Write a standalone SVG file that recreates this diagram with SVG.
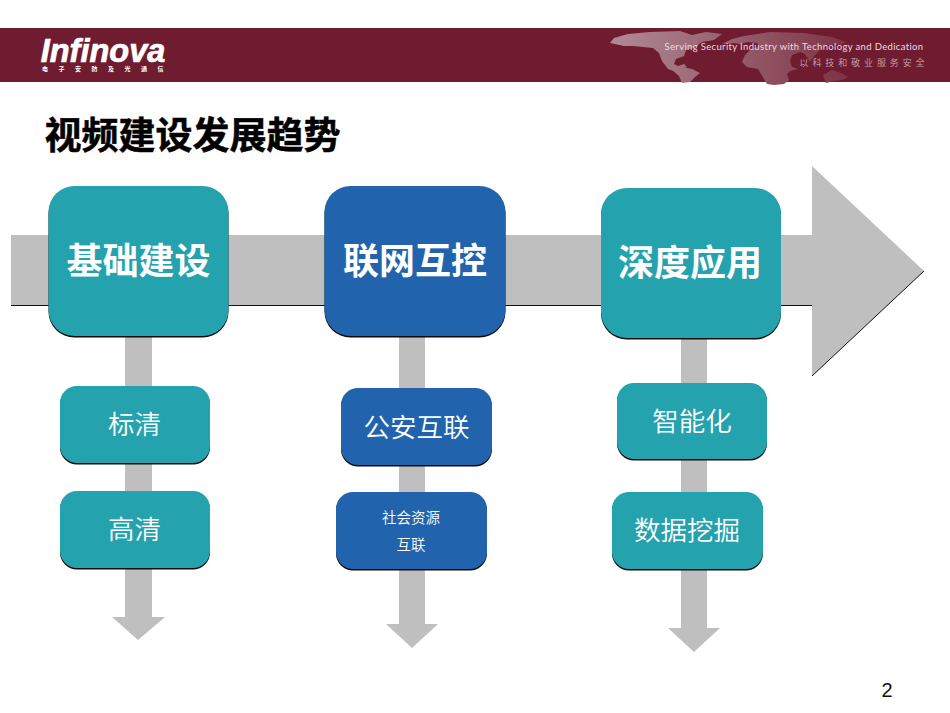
<svg xmlns="http://www.w3.org/2000/svg" width="950" height="713" viewBox="0 0 950 713">
<defs>
<linearGradient id="mapfade" gradientUnits="userSpaceOnUse" x1="612" y1="0" x2="850" y2="0"><stop offset="0" stop-color="#b08a95"/><stop offset=".5" stop-color="#965f6e"/><stop offset="1" stop-color="#7e3244"/></linearGradient>
<filter id="soft" x="-5%" y="-5%" width="110%" height="110%"><feGaussianBlur stdDeviation=".7"/></filter>
</defs>
<style>
text{font-family:"Noto Sans CJK SC","Liberation Sans",sans-serif;text-anchor:middle;fill:#fff}
.arrow{fill:#bfbfbf}
.big{font-size:36px;font-weight:700}
.mid{font-size:26.500px;font-weight:350}
.small{font-size:14.500px;font-weight:350}
.teal{fill:#24a2ae}
.blue{fill:#2164ad}
.sh{fill:#0a0a0a}
</style>
<rect width="950" height="713" fill="#fff"/>
<g id="header">
<rect x="0" y="28" width="950" height="54" fill="#701c30"/>
<path fill="url(#mapfade)" filter="url(#soft)" d="M614 38l14-4 22-2 30-1 12 4 14-3 16 2-8 6-12 2-8 6-8 2-2 6-8 3-2 5 4 2 6-2 3 3-6 2-5 3-8-3-6-8-3-8-6-5-10-1-10-1-9 0-14-3zM672 70l10-3 10 2 8 4-5 4-5 5-8 1-3-7zM722 44l10-5 12-3 26-4 34 1 28 4 14 5-6 3-12 0-8 5-6 6-4 6-5-8-5-2-8 3-2 6 2 6 6 2-8 2-3 3 2 6-5 4-10 1-7-1-6-10-3-5-11-2-5-5 3-7 6-6 8-2-2-4-9-1-8 2-6-1zM823 75l9-5 9 3 7 4-6 3-8 1-8 2z"/>
<text x="794" y="50" style="font-size:9.500px;letter-spacing:.35px;fill:#eadde0;font-family:Lato,'Liberation Sans',sans-serif;font-weight:400">Serving Security Industry with Technology and Dedication</text>
<text x="864" y="66" style="font-size:9px;letter-spacing:3.900px;fill:#c4a3ac;font-weight:350">以科技和敬业服务安全</text>
<text x="103" y="62" style="font-family:'Liberation Sans',sans-serif;font-size:32.500px;font-weight:700;font-style:italic;stroke:#fff;stroke-width:.7">Infinova</text>
<text x="108" y="71" style="font-size:6px;font-weight:700;letter-spacing:10.500px">电子安防及光通信</text>
</g>
<text x="192.500" y="149" style="font-size:37px;font-weight:700;fill:#000;stroke:#000;stroke-width:.5">视频建设发展趋势</text>
<g id="connectors">
<path class="arrow" d="M11 235H812V166L924 271 812 376V306H11z"/>
<path d="M11 305.500H812M812 376L924 271" fill="none" stroke="#111" stroke-width="1"/>
<path class="arrow" d="M125 330h27V617h13L138 640 112 617h13z"/>
<path class="arrow" d="M399 330h26V624h13L412 648 386 624h13z"/>
<path class="arrow" d="M681 330h26V628h13L694 652 668 628h13z"/>
</g>
<g id="node-jichu"><rect class="sh" x="48.500" y="187.500" width="180" height="150" rx="26"/><rect class="teal" x="48.500" y="186" width="180" height="150" rx="26"/><text class="big" x="138.500" y="274">基础建设</text></g>
<g id="node-lianwang"><rect class="sh" x="324.500" y="187.500" width="181" height="150" rx="26"/><rect class="blue" x="324.500" y="186" width="181" height="150" rx="26"/><text class="big" x="415" y="274">联网互控</text></g>
<g id="node-shendu"><rect class="sh" x="601" y="189.500" width="180" height="150" rx="26"/><rect class="teal" x="601" y="188" width="180" height="150" rx="26"/><text class="big" x="690" y="276">深度应用</text></g>
<g id="node-biaoqing"><rect class="sh" x="60" y="387.500" width="150" height="77" rx="17"/><rect class="teal" x="60" y="386" width="150" height="77" rx="17"/><text class="mid" x="134.500" y="434">标清</text></g>
<g id="node-gaoqing"><rect class="sh" x="60" y="492.500" width="150" height="77" rx="17"/><rect class="teal" x="60" y="491" width="150" height="77" rx="17"/><text class="mid" x="134.500" y="539">高清</text></g>
<g id="node-gongan"><rect class="sh" x="341" y="389.500" width="151" height="77" rx="17"/><rect class="blue" x="341" y="388" width="151" height="77" rx="17"/><text class="mid" x="416.500" y="437">公安互联</text></g>
<g id="node-shehui"><rect class="sh" x="336" y="493.500" width="151" height="77" rx="17"/><rect class="blue" x="336" y="492" width="151" height="77" rx="17"/><text class="small" x="411" y="523">社会资源</text><text class="small" x="411" y="550">互联</text></g>
<g id="node-zhineng"><rect class="sh" x="617" y="384.500" width="150" height="76" rx="17"/><rect class="teal" x="617" y="383" width="150" height="76" rx="17"/><text class="mid" x="692" y="431">智能化</text></g>
<g id="node-shuju"><rect class="sh" x="612" y="493.500" width="151" height="77" rx="17"/><rect class="teal" x="612" y="492" width="151" height="77" rx="17"/><text class="mid" x="687" y="540">数据挖掘</text></g>
<text x="887" y="697" style="font-family:'Liberation Sans',sans-serif;font-size:20px;fill:#111">2</text>
</svg>
